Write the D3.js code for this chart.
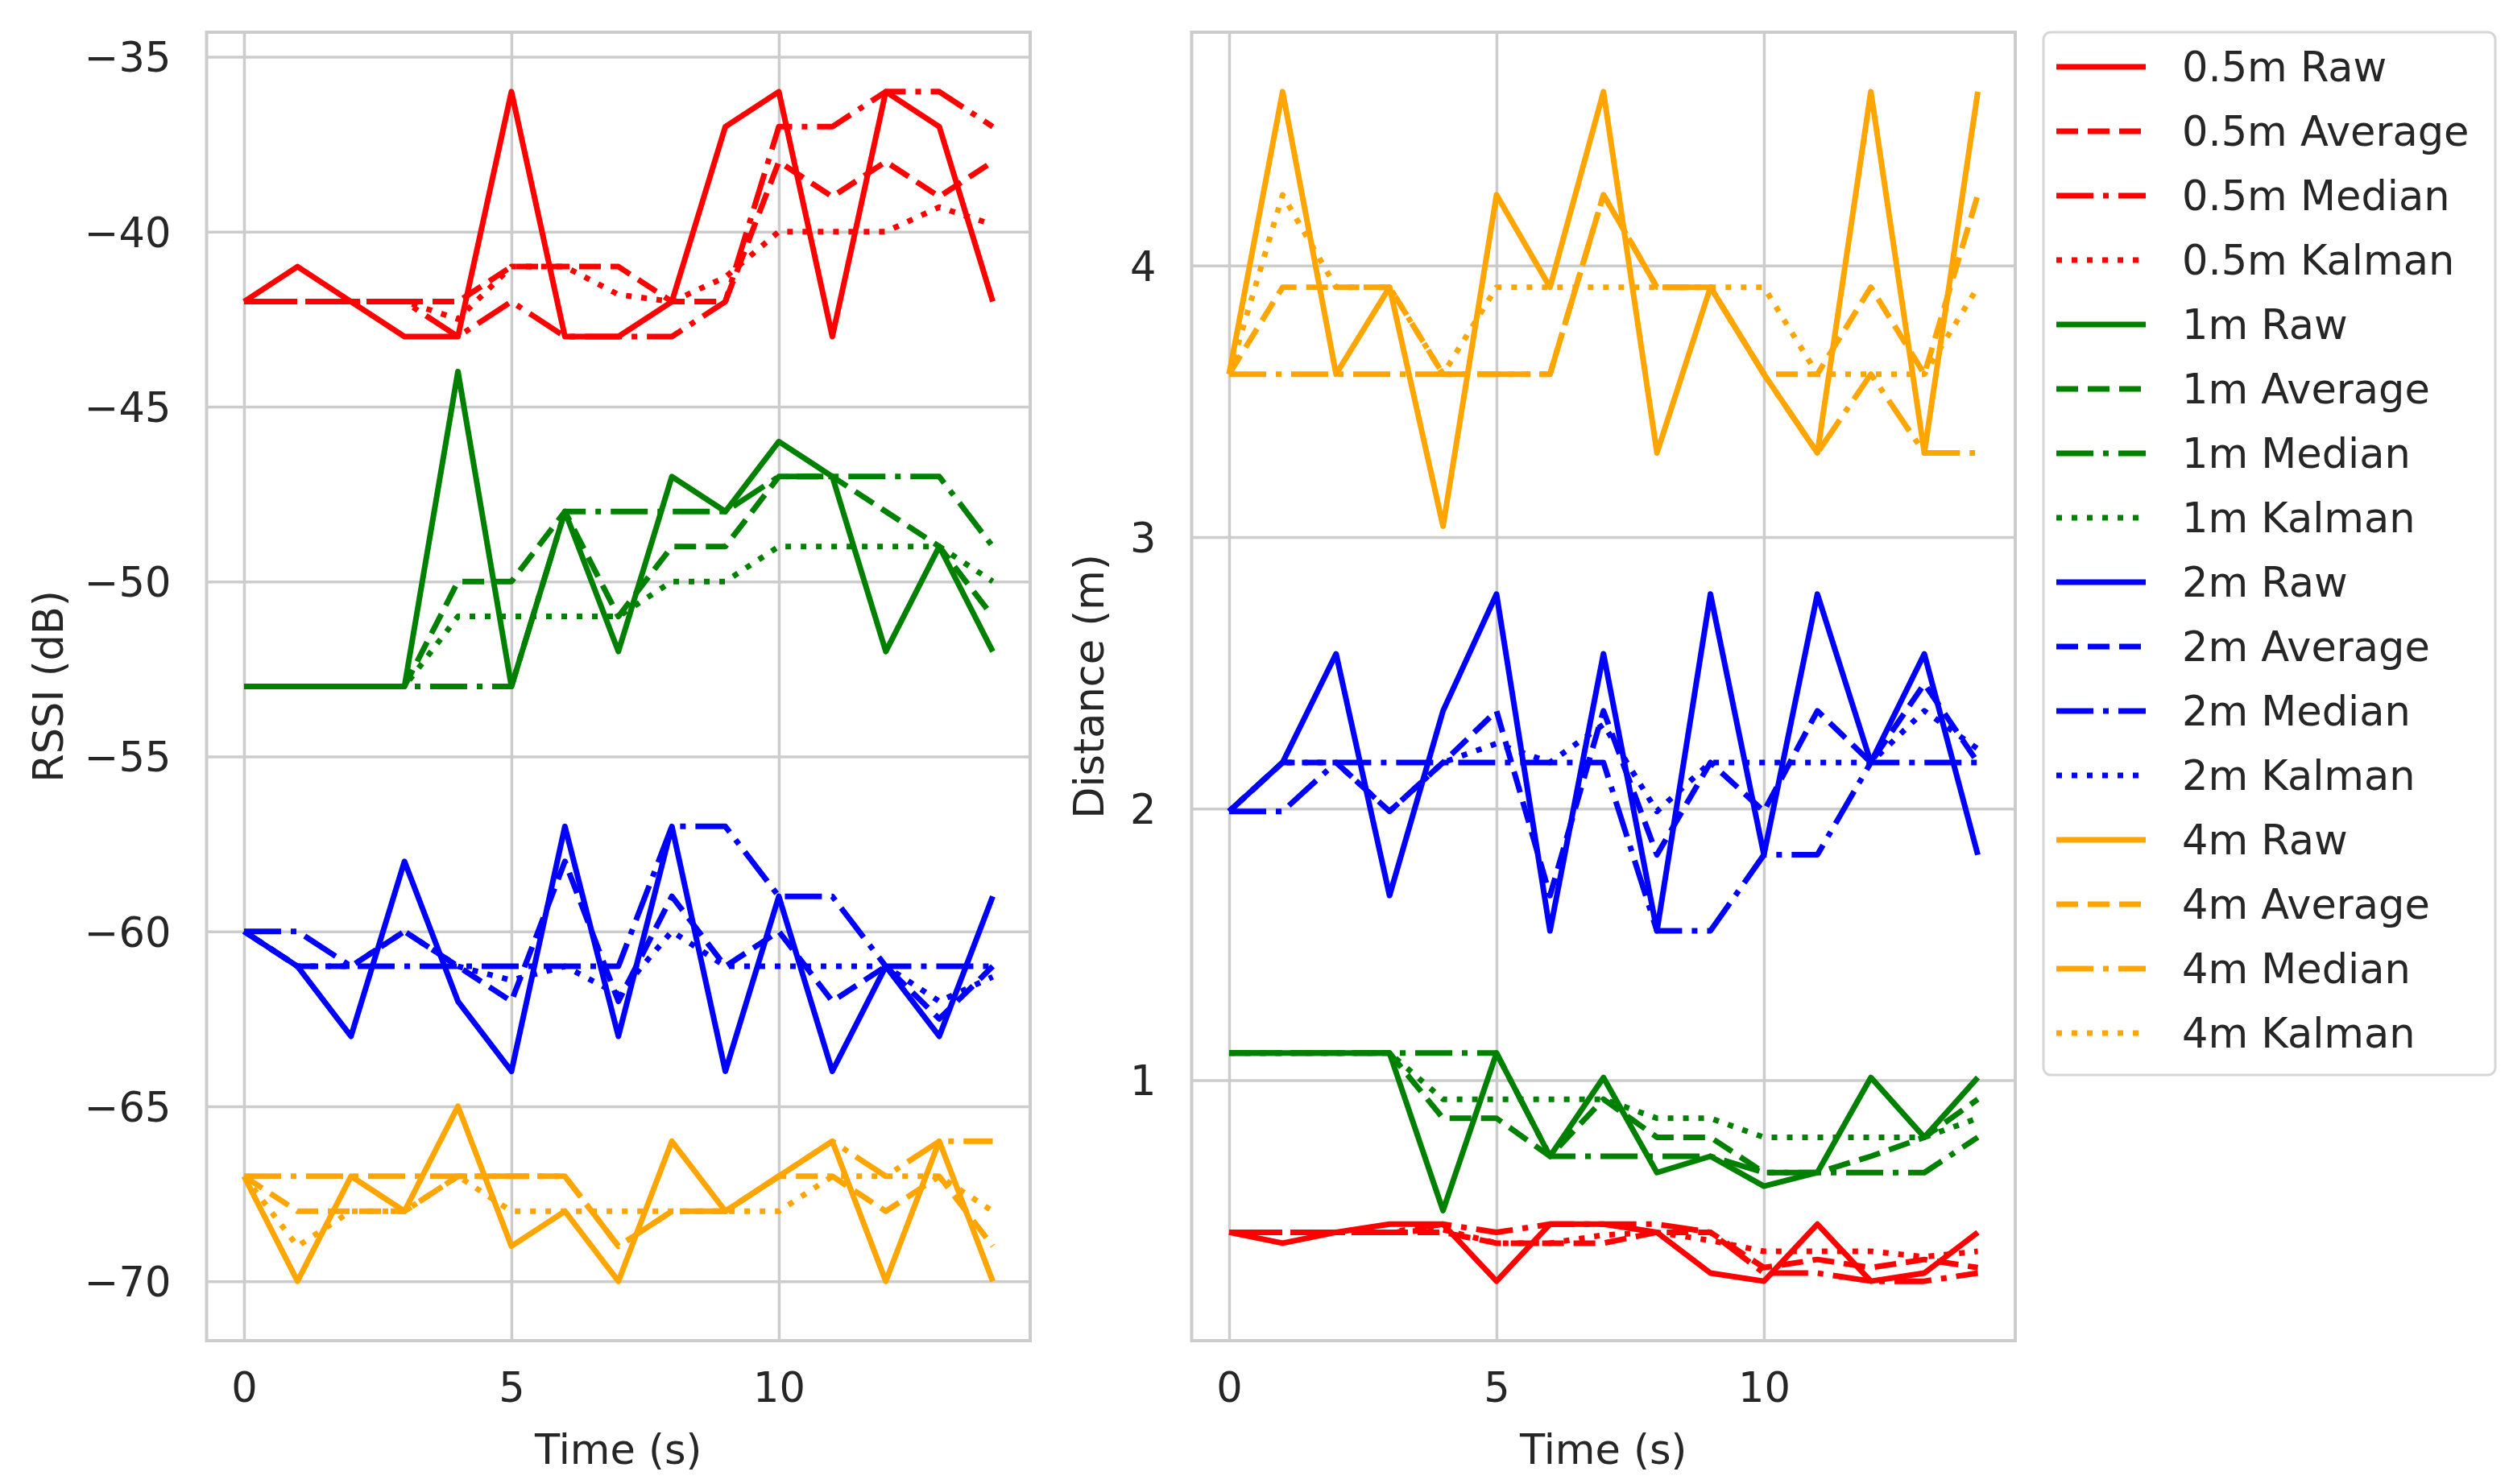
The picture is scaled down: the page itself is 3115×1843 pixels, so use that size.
<!DOCTYPE html>
<html>
<head>
<meta charset="utf-8">
<script src="https://cdnjs.cloudflare.com/ajax/libs/d3/7.8.5/d3.min.js"></script>
<style>
    body { margin: 0; background: #fff; }
    text { font-family: "DejaVu Sans", sans-serif; fill: #262626; }
</style>
</head>
<body>
<div id="chart"></div>
<script>
// time steps (s)
var time = [0, 1, 2, 3, 4, 5, 6, 7, 8, 9, 10, 11, 12, 13, 14];

// RSSI (dB), left panel
var rssi05Raw    = [-42, -41, -42, -43, -43, -36, -43, -43, -42, -37, -36, -43, -36, -37, -42];
var rssi05Avg    = [-42, -42, -42, -42, -42, -41, -41, -41, -42, -42, -38, -39, -38, -39, -38];
var rssi05Median = [-42, -42, -42, -42, -43, -42, -43, -43, -43, -42, -37, -37, -36, -36, -37];
var rssi05Kalman = [-42, -42, -42, -42, -42.5, -41, -41, -41.8, -42, -41.3, -40, -40, -40, -39.3, -39.8];

var rssi1Raw    = [-53, -53, -53, -53, -44, -53, -48, -52, -47, -48, -46, -47, -52, -49, -52];
var rssi1Avg    = [-53, -53, -53, -53, -50, -50, -48, -51, -49, -49, -47, -47, -48, -49, -51];
var rssi1Median = [-53, -53, -53, -53, -53, -53, -48, -48, -48, -48, -47, -47, -47, -47, -49];
var rssi1Kalman = [-53, -53, -53, -53, -51, -51, -51, -51, -50, -50, -49, -49, -49, -49, -50];

var rssi2Raw    = [-60, -61, -63, -58, -62, -64, -57, -63, -57, -64, -59, -64, -61, -63, -59];
var rssi2Avg    = [-60, -61, -61, -60, -61, -62, -58, -62, -59, -61, -60, -62, -61, -62.5, -61];
var rssi2Median = [-60, -60, -61, -61, -61, -61, -61, -61, -57, -57, -59, -59, -61, -61, -61];
var rssi2Kalman = [-60, -61, -61, -60, -61, -61.4, -61, -61.8, -60, -61, -61, -61, -61, -62, -61.3];

var rssi4Raw    = [-67, -70, -67, -68, -65, -69, -68, -70, -66, -68, -67, -66, -70, -66, -70];
var rssi4Avg    = [-67, -68, -68, -68, -67, -67, -67, -69, -68, -68, -67, -67, -68, -67, -69];
var rssi4Median = [-67, -67, -67, -67, -67, -67, -67, -69, -68, -68, -67, -66, -67, -66, -66];
var rssi4Kalman = [-67, -69, -68, -68, -67, -68, -68, -68, -68, -68, -68, -67, -67, -67, -68];

// Distance (m), right panel
var dist05Raw    = [0.44, 0.40, 0.44, 0.47, 0.47, 0.26, 0.47, 0.47, 0.44, 0.29, 0.26, 0.47, 0.26, 0.29, 0.44];
var dist05Avg    = [0.44, 0.44, 0.44, 0.44, 0.44, 0.40, 0.40, 0.40, 0.44, 0.44, 0.31, 0.34, 0.31, 0.34, 0.31];
var dist05Median = [0.44, 0.44, 0.44, 0.44, 0.47, 0.44, 0.47, 0.47, 0.47, 0.44, 0.29, 0.29, 0.26, 0.26, 0.29];
var dist05Kalman = [0.44, 0.44, 0.44, 0.44, 0.45, 0.40, 0.40, 0.43, 0.44, 0.41, 0.37, 0.37, 0.37, 0.35, 0.37];

var dist1Raw    = [1.10, 1.10, 1.10, 1.10, 0.52, 1.10, 0.72, 1.01, 0.66, 0.72, 0.61, 0.66, 1.01, 0.79, 1.01];
var dist1Avg    = [1.10, 1.10, 1.10, 1.10, 0.86, 0.86, 0.72, 0.93, 0.79, 0.79, 0.66, 0.66, 0.72, 0.79, 0.93];
var dist1Median = [1.10, 1.10, 1.10, 1.10, 1.10, 1.10, 0.72, 0.72, 0.72, 0.72, 0.66, 0.66, 0.66, 0.66, 0.79];
var dist1Kalman = [1.10, 1.10, 1.10, 1.10, 0.93, 0.93, 0.93, 0.93, 0.86, 0.86, 0.79, 0.79, 0.79, 0.79, 0.86];

var dist2Raw    = [1.99, 2.17, 2.57, 1.68, 2.36, 2.79, 1.55, 2.57, 1.55, 2.79, 1.83, 2.79, 2.17, 2.57, 1.83];
var dist2Avg    = [1.99, 2.17, 2.17, 1.99, 2.17, 2.36, 1.68, 2.36, 1.83, 2.17, 1.99, 2.36, 2.17, 2.46, 2.17];
var dist2Median = [1.99, 1.99, 2.17, 2.17, 2.17, 2.17, 2.17, 2.17, 1.55, 1.55, 1.83, 1.83, 2.17, 2.17, 2.17];
var dist2Kalman = [1.99, 2.17, 2.17, 1.99, 2.17, 2.24, 2.17, 2.31, 1.99, 2.17, 2.17, 2.17, 2.17, 2.36, 2.22];

var dist4Raw    = [3.60, 4.64, 3.60, 3.92, 3.04, 4.26, 3.92, 4.64, 3.31, 3.92, 3.60, 3.31, 4.64, 3.31, 4.64];
var dist4Avg    = [3.60, 3.92, 3.92, 3.92, 3.60, 3.60, 3.60, 4.26, 3.92, 3.92, 3.60, 3.60, 3.92, 3.60, 4.26];
var dist4Median = [3.60, 3.60, 3.60, 3.60, 3.60, 3.60, 3.60, 4.26, 3.92, 3.92, 3.60, 3.31, 3.60, 3.31, 3.31];
var dist4Kalman = [3.60, 4.26, 3.92, 3.92, 3.60, 3.92, 3.92, 3.92, 3.92, 3.92, 3.92, 3.60, 3.60, 3.60, 3.92];

var distances = ["0.5m", "1m", "2m", "4m"];
var methods = ["Raw", "Average", "Median", "Kalman"];
var xTicks = [0, 5, 10];
var rssiTicks = [-35, -40, -45, -50, -55, -60, -65, -70];
var distTicks = [1, 2, 3, 4];

var colors = { "0.5m": "red", "1m": "green", "2m": "blue", "4m": "orange" };
var dashes = { "Raw": null, "Average": "27,12", "Median": "46,12,7,12", "Kalman": "7,12" };

var rssiSeries = [
    rssi05Raw, rssi05Avg, rssi05Median, rssi05Kalman,
    rssi1Raw, rssi1Avg, rssi1Median, rssi1Kalman,
    rssi2Raw, rssi2Avg, rssi2Median, rssi2Kalman,
    rssi4Raw, rssi4Avg, rssi4Median, rssi4Kalman
];
var distSeries = [
    dist05Raw, dist05Avg, dist05Median, dist05Kalman,
    dist1Raw, dist1Avg, dist1Median, dist1Kalman,
    dist2Raw, dist2Avg, dist2Median, dist2Kalman,
    dist4Raw, dist4Avg, dist4Median, dist4Kalman
];

// one entry per line, in plotting order
var entries = [];
distances.forEach(function (d, i) {
    methods.forEach(function (m, j) {
        entries.push({ label: d + " " + m, color: colors[d], dash: dashes[m], k: i * 4 + j });
    });
});

//setup
var svgWidth = 3115;
var svgHeight = 1843;
var fontSize = 51;
var lineWidth = 7;

var svg = d3.select("#chart")
    .append("svg")
    .attr("width", svgWidth)
    .attr("height", svgHeight);

// matplotlib style 5% margins
function padded(series) {
    var ext = d3.extent(d3.merge(series));
    var pad = (ext[1] - ext[0]) * 0.05;
    return [ext[0] - pad, ext[1] + pad];
}

function drawPanel(left, right, series, yTicks, yFormat, yLabel, labelX) {
    var top = 40, bottom = 1665;
    var x = d3.scaleLinear().domain([-0.7, 14.7]).range([left, right]);
    var y = d3.scaleLinear().domain(padded(series)).range([bottom, top]);

    // grid + tick labels
    var yAxis = svg.append("g")
        .attr("transform", "translate(" + left + ",0)")
        .call(d3.axisLeft(y).tickValues(yTicks).tickFormat(yFormat)
            .tickSize(-(right - left)).tickPadding(44));
    var xAxis = svg.append("g")
        .attr("transform", "translate(0," + bottom + ")")
        .call(d3.axisBottom(x).tickValues(xTicks).tickFormat(d3.format("d"))
            .tickSize(-(bottom - top)).tickPadding(40));

    [yAxis, xAxis].forEach(function (ax) {
        ax.select(".domain").remove();
        ax.selectAll("line").attr("stroke", "#cccccc").attr("stroke-width", 3.5);
        ax.selectAll("text")
            .attr("font-size", fontSize)
            .attr("font-family", "DejaVu Sans")
            .attr("fill", "#262626");
    });
    yAxis.selectAll("text").attr("dy", "0.36em");

    // frame
    svg.append("rect")
        .attr("x", left).attr("y", top)
        .attr("width", right - left).attr("height", bottom - top)
        .attr("fill", "none")
        .attr("stroke", "#cccccc")
        .attr("stroke-width", 4);

    var line = d3.line()
        .x(function (d, i) { return x(time[i]); })
        .y(function (d) { return y(d); });

    svg.append("g")
        .selectAll("path")
        .data(entries)
        .enter()
        .append("path")
        .attr("d", function (e) { return line(series[e.k]); })
        .attr("fill", "none")
        .attr("stroke", function (e) { return e.color; })
        .attr("stroke-width", lineWidth)
        .attr("stroke-linejoin", "round")
        .attr("stroke-dasharray", function (e) { return e.dash; });

    // axis labels
    svg.append("text")
        .attr("x", (left + right) / 2)
        .attr("y", 1818)
        .attr("text-anchor", "middle")
        .attr("font-size", fontSize)
        .text("Time (s)");

    svg.append("text")
        .attr("transform", "translate(" + labelX + "," + (top + bottom) / 2 + ") rotate(-90)")
        .attr("text-anchor", "middle")
        .attr("font-size", fontSize)
        .text(yLabel);
}

drawPanel(256.5, 1279, rssiSeries, rssiTicks, d3.format("d"), "RSSI (dB)", 78);
drawPanel(1479.5, 2502, distSeries, distTicks, d3.format("d"), "Distance (m)", 1370);

// legend
var legend = svg.append("g");
legend.append("rect")
    .attr("x", 2537).attr("y", 40)
    .attr("width", 561).attr("height", 1295)
    .attr("rx", 9)
    .attr("fill", "white")
    .attr("fill-opacity", 0.8)
    .attr("stroke", "#d6d6d6")
    .attr("stroke-width", 3);

var rows = legend.selectAll(".row")
    .data(entries)
    .enter()
    .append("g")
    .attr("transform", function (e, i) { return "translate(0," + (83 + i * 80) + ")"; });

rows.append("line")
    .attr("x1", 2553).attr("x2", 2664)
    .attr("stroke", function (e) { return e.color; })
    .attr("stroke-width", lineWidth)
    .attr("stroke-dasharray", function (e) { return e.dash; });

rows.append("text")
    .attr("x", 2709)
    .attr("dy", "0.36em")
    .attr("font-size", fontSize)
    .text(function (e) { return e.label; });
</script>
</body>
</html>
